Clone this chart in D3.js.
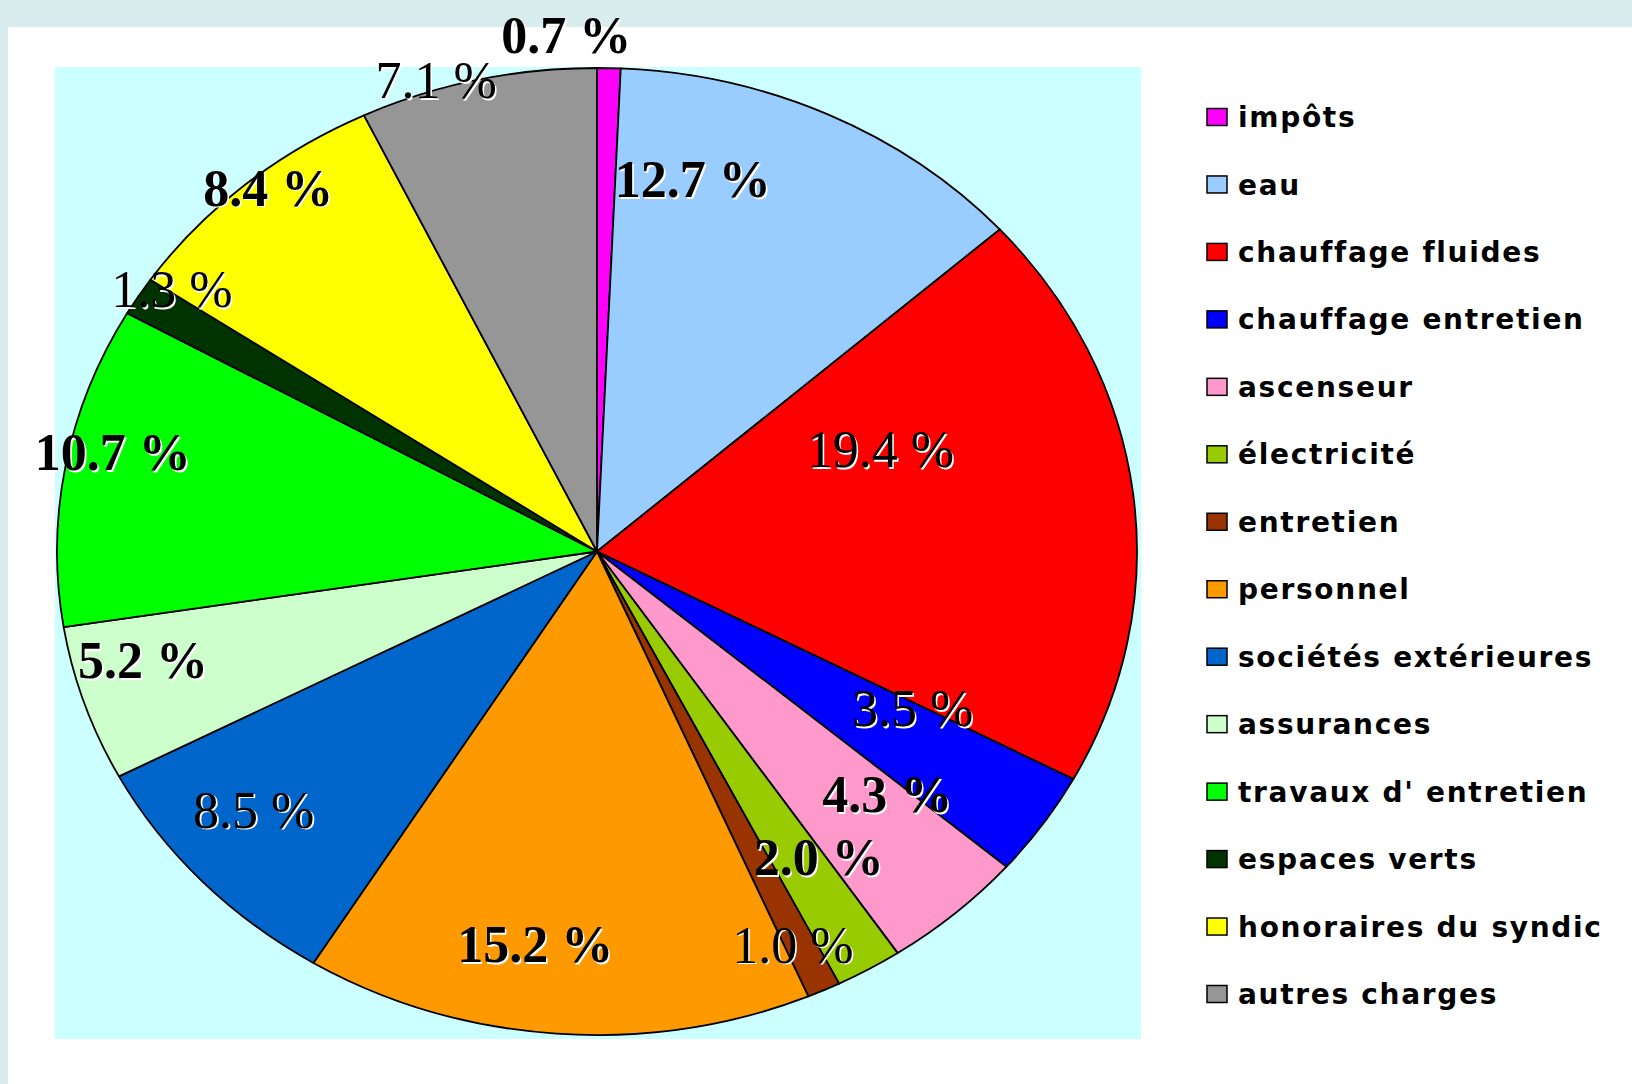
<!DOCTYPE html>
<html>
<head>
<meta charset="utf-8">
<script src="https://cdn.jsdelivr.net/npm/d3@7"></script>
<style>
  html, body { margin: 0; padding: 0; background: #d9ecee; }
  svg { display: block; }
</style>
</head>
<body>
<div id="chart"></div>
<script>
// postes de charges (ordre du camembert, sens horaire depuis midi)
var categories = ["impôts", "eau", "chauffage fluides", "chauffage entretien", "ascenseur",
  "électricité", "entretien", "personnel", "sociétés extérieures", "assurances",
  "travaux d' entretien", "espaces verts", "honoraires du syndic", "autres charges"];
var shares = [0.7, 12.7, 19.4, 3.5, 4.3, 2.0, 1.0, 15.2, 8.5, 5.2, 10.7, 1.3, 8.4, 7.1];
var colors = ["#ff00ff", "#99ccff", "#ff0000", "#0000ff", "#ff99cc", "#99cc00", "#993300",
  "#ff9900", "#0066cc", "#ccffcc", "#00ff00", "#003300", "#ffff00", "#969696"];

// label styling / placement (bold or not, shift from mid angle in deg, radius fraction)
var labelBold = [true, true, false, false, true, true, false, true, false, true, true, false, true, false];
var labelShift = [-4.3, -12.4, -15.2, -5.4, -5.4, -2.8, 0.8, 3.7, 3, 3.4, 2.7, 2.7, 1.7, -4.2];
var labelRadius = [1.07, 0.79, 0.566, 0.668, 0.735, 0.753, 0.89, 0.82, 0.83, 0.87, 0.92, 0.956, 0.968, 1.02];

var W = 1632, H = 1084;
var cx = 597, cy = 551.5, ry = 483.5, rx = 540;

var svg = d3.select("#chart").append("svg")
  .attr("width", W)
  .attr("height", H);

// page panel
svg.append("rect").attr("x", 0).attr("y", 0).attr("width", W).attr("height", H).attr("fill", "#d9ecee");
svg.append("rect").attr("x", 8).attr("y", 27).attr("width", W - 8).attr("height", H - 27).attr("fill", "#ffffff");
// plot area
svg.append("rect").attr("x", 55).attr("y", 67).attr("width", 1086).attr("height", 972).attr("fill", "#ccffff");

var pie = d3.pie().sort(null).value(function(d){ return d; });
var arcs = pie(shares);

var arc = d3.arc().innerRadius(0).outerRadius(ry);

var pieG = svg.append("g")
  .attr("transform", "translate(" + cx + "," + cy + ") scale(" + (rx / ry) + ",1)");

pieG.selectAll("path")
  .data(arcs)
  .enter().append("path")
  .attr("d", arc)
  .attr("fill", function(d, i){ return colors[i]; })
  .attr("stroke", "#000")
  .attr("stroke-width", 1.8)
  .attr("vector-effect", "non-scaling-stroke")
  .attr("stroke-linejoin", "round");

// labels
function labelPos(d, i) {
  var a = (d.startAngle + d.endAngle) / 2 + labelShift[i] * Math.PI / 180;
  var r = labelRadius[i];
  return [cx + rx * r * Math.sin(a), cy - ry * r * Math.cos(a)];
}

var labels = svg.append("g").selectAll("g")
  .data(arcs)
  .enter().append("g")
  .attr("transform", function(d, i){ var p = labelPos(d, i); return "translate(" + p[0] + "," + p[1] + ")"; });

["#ffffff", "#000000"].forEach(function(col, k) {
  labels.append("text")
    .attr("x", k ? 0 : 1.6)
    .attr("y", k ? 0 : 1.6)
    .attr("dy", "0.35em")
    .attr("text-anchor", "middle")
    .attr("font-family", "'Liberation Serif', 'Times New Roman', serif")
    .attr("font-size", 52)
    .attr("font-weight", function(d, i){ return labelBold[i] ? "bold" : "normal"; })
    .attr("fill", col)
    .text(function(d){ return d.data.toFixed(1) + " %"; });
});

// legend
var legY = d3.scalePoint().domain(categories).range([117, 994]);

var leg = svg.append("g").selectAll("g")
  .data(categories)
  .enter().append("g")
  .attr("transform", function(d){ return "translate(1207," + legY(d) + ")"; });

leg.append("rect")
  .attr("x", 0).attr("y", -8.5)
  .attr("width", 20).attr("height", 17)
  .attr("fill", function(d, i){ return colors[i]; })
  .attr("stroke", "#000")
  .attr("stroke-width", 1.5);

leg.append("text")
  .attr("x", 31)
  .attr("y", 0)
  .attr("dy", "0.36em")
  .attr("font-family", "'DejaVu Sans', Verdana, sans-serif")
  .attr("font-weight", "bold")
  .attr("font-size", 28)
  .attr("letter-spacing", 1.7)
  .attr("fill", "#000")
  .text(function(d){ return d; });
</script>
</body>
</html>
